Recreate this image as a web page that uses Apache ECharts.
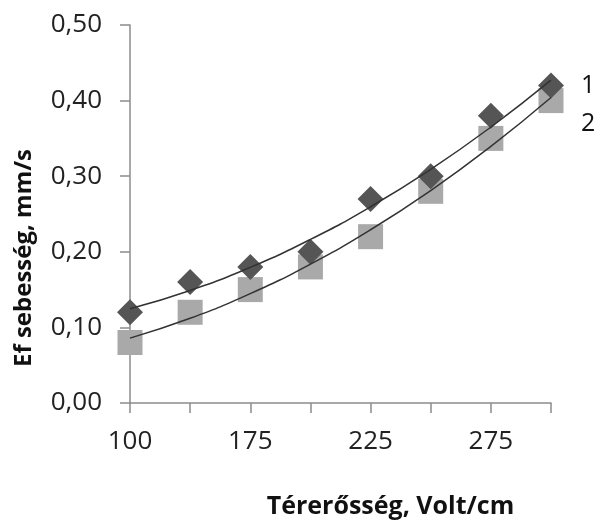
<!DOCTYPE html>
<html><head><meta charset="utf-8">
<script src="https://cdn.jsdelivr.net/npm/echarts@6/dist/echarts.min.js"></script>
<style>html,body{margin:0;padding:0;background:#fff}#c{width:598px;height:520px}</style>
</head><body><div id="c"></div>
<script>
var categories = ['100','150','175','200','225','250','275','300'];
var series1 = [0.12,0.16,0.18,0.20,0.27,0.30,0.38,0.42];
var series2 = [0.08,0.12,0.15,0.18,0.22,0.28,0.35,0.40];
var seriesNames = ['1','2'];
var yTicks = [0,0.1,0.2,0.3,0.4,0.5];

function quadFit(ys){
  var n=ys.length,S=[0,0,0,0,0],T=[0,0,0];
  for(var i=0;i<n;i++){var x=i+1;for(var k=0;k<5;k++)S[k]+=Math.pow(x,k);for(var k2=0;k2<3;k2++)T[k2]+=ys[i]*Math.pow(x,k2);}
  var A=[[S[0],S[1],S[2],T[0]],[S[1],S[2],S[3],T[1]],[S[2],S[3],S[4],T[2]]];
  for(var c=0;c<3;c++){for(var r=c+1;r<3;r++){var f=A[r][c]/A[c][c];for(var j=c;j<4;j++)A[r][j]-=f*A[c][j];}}
  var b=[0,0,0];for(var r2=2;r2>=0;r2--){var s=A[r2][3];for(var j2=r2+1;j2<3;j2++)s-=A[r2][j2]*b[j2];b[r2]=s/A[r2][r2];}
  return ys.map(function(_,i){var x=i+1;return b[0]+b[1]*x+b[2]*x*x;});
}
var fit1=quadFit(series1), fit2=quadFit(series2);

var chart=echarts.init(document.getElementById('c'),null,{renderer:'canvas'});
var font='"Open Sans", sans-serif';
chart.setOption({
  animation:false,
  grid:{left:130,right:47,top:25,bottom:117,outerBoundsMode:'none',containLabel:false},
  xAxis:{type:'category',data:categories,boundaryGap:false,
    axisLine:{lineStyle:{color:'#8c8c8c',width:1.5}},
    axisTick:{show:true,length:10,lineStyle:{color:'#8c8c8c',width:1.5},interval:0},
    axisLabel:{interval:1,color:'#222',fontSize:26,fontFamily:font,margin:26},
    splitLine:{show:false},
    name:'Térerősség, Volt/cm',nameLocation:'middle',nameGap:91,
    nameTextStyle:{fontSize:25,fontWeight:'bold',color:'#111',fontFamily:font,padding:[0,0,0,100]}},
  yAxis:{type:'value',min:0,max:0.5,interval:0.1,
    axisLine:{show:true,lineStyle:{color:'#8c8c8c',width:1.5}},
    axisTick:{show:true,length:10,lineStyle:{color:'#8c8c8c',width:1.5}},
    axisLabel:{color:'#222',fontSize:26,fontFamily:font,margin:28,
      formatter:function(v){return v.toFixed(2).replace('.',',');}},
    splitLine:{show:false},
    name:'Ef sebesség, mm/s',nameLocation:'middle',nameGap:94,
    nameTextStyle:{fontSize:24,fontWeight:'bold',color:'#111',fontFamily:font,padding:[0,88,0,0]}},
  series:[
    {name:seriesNames[0],type:'line',data:series1,symbol:'diamond',symbolSize:[26,26],
      lineStyle:{opacity:0},itemStyle:{color:'#555555'},z:2},
    {name:seriesNames[1],type:'line',data:series2,symbol:'rect',symbolSize:[25,25],
      lineStyle:{opacity:0},itemStyle:{color:'#a9a9a9'},z:1},
    {type:'line',data:fit1,smooth:true,symbol:'none',lineStyle:{color:'#333',width:1.5},z:5,
      endLabel:{show:true,formatter:seriesNames[0],fontSize:25,color:'#111',fontFamily:font,offset:[22,6]}},
    {type:'line',data:fit2,smooth:true,symbol:'none',lineStyle:{color:'#333',width:1.5},z:5,
      endLabel:{show:true,formatter:seriesNames[1],fontSize:25,color:'#111',fontFamily:font,offset:[22,26]}}
  ]
});
</script></body></html>
